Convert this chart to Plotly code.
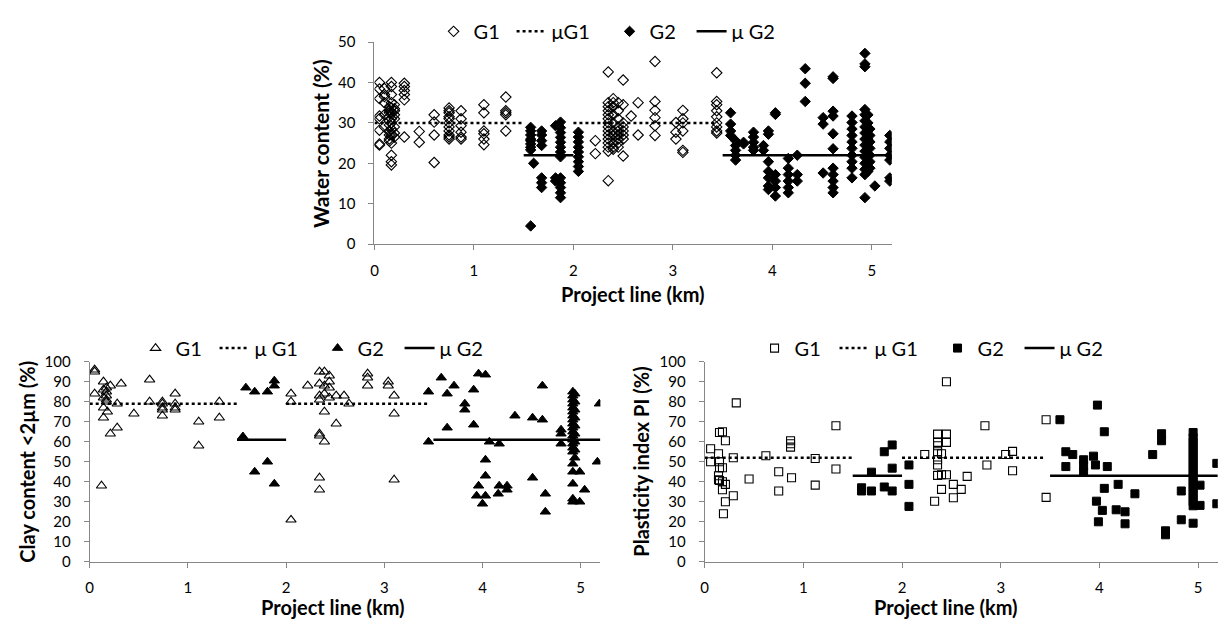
import plotly.graph_objects as go

# ---------------- data ----------------
# Water content (%) – top chart
wc_g1_km = [0.05, 0.05, 0.05, 0.05, 0.05, 0.05, 0.05, 0.05,
            0.10, 0.10, 0.10, 0.10, 0.10, 0.10,
            0.15, 0.15, 0.15, 0.15, 0.15, 0.15, 0.15, 0.15, 0.15, 0.15,
            0.17, 0.17, 0.17, 0.17, 0.17, 0.17, 0.17, 0.17, 0.17, 0.17, 0.17, 0.17, 0.17, 0.17,
            0.20, 0.20, 0.20, 0.20, 0.20, 0.20, 0.20, 0.20,
            0.30, 0.30, 0.30, 0.30, 0.30, 0.30,
            0.45, 0.45,
            0.60, 0.60, 0.60, 0.60,
            0.75, 0.75, 0.75, 0.75, 0.75, 0.75, 0.75, 0.75, 0.75, 0.75, 0.75,
            0.87, 0.87, 0.87, 0.87, 0.87, 0.87,
            1.10, 1.10, 1.10, 1.10, 1.10, 1.10,
            1.32, 1.32, 1.32, 1.32, 1.32,
            2.22, 2.22,
            2.35, 2.35, 2.35, 2.35, 2.35, 2.35, 2.35, 2.35, 2.35, 2.35, 2.35, 2.35, 2.35, 2.35, 2.35,
            2.40, 2.40, 2.40, 2.40, 2.40, 2.40, 2.40, 2.40, 2.40, 2.40,
            2.45, 2.45, 2.45, 2.45, 2.45, 2.45, 2.45, 2.45, 2.45,
            2.50, 2.50, 2.50, 2.50, 2.50, 2.50, 2.50, 2.50,
            2.58,
            2.65, 2.65,
            2.82, 2.82, 2.82, 2.82, 2.82, 2.82,
            3.03, 3.03, 3.03,
            3.10, 3.10, 3.10, 3.10, 3.10, 3.10,
            3.44, 3.44, 3.44, 3.44, 3.44, 3.44, 3.44, 3.44, 3.44]
wc_g1 = [40, 38.4, 36, 31.7, 31, 28.2, 24.8, 24.5,
         38.5, 37, 36.5, 35, 32, 29,
         34, 33, 32.5, 31.5, 30.5, 29.5, 28, 27, 26, 25.5,
         40, 39, 37, 35, 33.7, 32.5, 31, 30, 28.5, 27, 25, 22, 20.4, 19.6,
         34.5, 33.5, 33, 32, 31, 29, 27.5, 26.5,
         39.8, 39, 38, 37, 35.7, 26.5,
         27.9, 25.2,
         32, 30.2, 27, 20.2,
         33.7, 33, 32.5, 31.5, 31, 30, 29, 28, 27, 26.5, 26,
         33, 31, 29.3, 27.7, 26.5, 26,
         34.5, 32.5, 28, 27.3, 26, 24.6,
         36.4, 33, 32.5, 32, 28,
         25.6, 22.4,
         42.6, 35, 34, 33, 32, 31, 30, 29, 28, 27, 26, 25, 24, 23, 15.7,
         36, 35, 34, 32, 30, 28, 27, 25, 24, 23.5,
         35, 33, 31, 29, 28, 27, 26, 25, 24,
         40.6, 34.5, 30, 29, 28, 27, 26, 21.8,
         31.7,
         35, 27,
         45.2, 35.3, 33.1, 31.3, 29.3, 26.9,
         30.1, 27.7, 26,
         33.1, 31, 30, 28, 23.2, 22.7,
         42.4, 35.3, 34.5, 33, 31.5, 30, 29, 28, 27.5]

wc_g2_km = [1.57, 1.57, 1.57, 1.57, 1.57, 1.57, 1.57, 1.57, 1.57,
            1.60,
            1.68, 1.68, 1.68, 1.68, 1.68, 1.68, 1.68,
            1.82, 1.82, 1.82,
            1.87, 1.87, 1.87, 1.87, 1.87, 1.87, 1.87, 1.87, 1.87, 1.87, 1.87, 1.87, 1.87,
            2.05, 2.05, 2.05, 2.05, 2.05, 2.05, 2.05, 2.05, 2.05,
            3.58, 3.58, 3.58, 3.58,
            3.63, 3.63, 3.63, 3.63, 3.63,
            3.71, 3.71,
            3.81, 3.81, 3.81, 3.81, 3.81,
            3.91, 3.91,
            3.96, 3.96, 3.96, 3.96, 3.96, 3.96, 3.96,
            4.03, 4.03, 4.03, 4.03, 4.03, 4.03,
            4.16, 4.16, 4.16, 4.16, 4.16, 4.16,
            4.25, 4.25, 4.25,
            4.33, 4.33, 4.33,
            4.51, 4.51, 4.51,
            4.61, 4.61, 4.61, 4.61, 4.61, 4.61, 4.61, 4.61, 4.61, 4.61, 4.61,
            4.80, 4.80, 4.80, 4.80, 4.80, 4.80, 4.80, 4.80, 4.80, 4.80,
            4.93, 4.93, 4.93, 4.93, 4.93, 4.93, 4.93, 4.93, 4.93, 4.93, 4.93, 4.93, 4.93, 4.93, 4.93, 4.93,
            4.96, 4.96, 4.96, 4.96, 4.96, 4.96, 4.96, 4.96,
            4.98, 4.98, 4.98, 4.98, 4.98, 4.98, 4.98,
            5.03,
            5.18, 5.18, 5.18, 5.18, 5.18, 5.18, 5.18]
wc_g2 = [28.9, 28, 27, 26, 25.6, 24.8, 24, 23.3, 4.5,
         20,
         28, 27, 25.6, 24.4, 16.4, 15.2, 14,
         29.3, 16.4, 15.6,
         30.2, 28.8, 27.6, 26.4, 25.2, 24, 22.8, 21.6, 16.4, 15.2, 14, 12.7, 11.5,
         27.7, 26.5, 25.3, 24, 22.8, 21.6, 20.4, 19.2, 18,
         32.5, 29.7, 28, 26.9,
         25.6, 24.4, 23.2, 22, 20.8,
         25.2, 24.8,
         27.7, 26.5, 25.2, 24, 23.2,
         24.4, 23.2,
         28, 27.2, 20.4, 18, 16.4, 14.4, 13.5,
         32.5, 32.1, 17.2, 15.6, 14, 11.9,
         21.2, 18.8, 17.2, 15.6, 14, 12.7,
         22, 17.2, 15.6,
         43.4, 39.8, 35.3,
         31.3, 29.7, 17.6,
         41.4, 41, 32.9, 31.7, 27.3, 23.6, 18.8, 17.2, 15.6, 14, 12.7,
         31.7, 30.1, 28.5, 26.9, 25.3, 23.7, 22, 20.4, 18.8, 16.4,
         47.2, 44.6, 43.9, 33.3, 32, 30.5, 29, 27.5, 26, 24.5, 23, 21.5, 20, 18.5, 17.2, 11.5,
         32, 30, 28, 26, 24, 22, 20, 18,
         28.5, 26.9, 25.3, 23.7, 22, 20.4, 18.8,
         14.4,
         26.9, 25.3, 23.7, 22, 20.8, 16.4, 15.6]
wc_mean_g1 = 30
wc_mean_g2 = 22

# Clay content <2µm (%) – bottom-left chart
cc_g1_km = [0.05, 0.05, 0.05, 0.12,
            0.14, 0.14, 0.14, 0.14, 0.14,
            0.17, 0.17, 0.17, 0.17, 0.17,
            0.18, 0.21, 0.21, 0.28, 0.28, 0.32, 0.45, 0.61, 0.61,
            0.74, 0.74, 0.74, 0.74, 0.74,
            0.87, 0.87, 0.87, 0.87,
            1.11, 1.11, 1.32, 1.32,
            2.05, 2.05, 2.05, 2.22,
            2.34, 2.34, 2.34, 2.34, 2.34, 2.34, 2.34, 2.34,
            2.39, 2.39, 2.39, 2.39, 2.39,
            2.44, 2.44, 2.44, 2.44,
            2.51, 2.51, 2.59, 2.64,
            2.83, 2.83, 2.83, 3.04, 3.04,
            3.10, 3.10, 3.10]
cc_g1 = [96, 95, 84, 38,
         90, 86, 82, 77, 72,
         87, 85, 83, 81, 80,
         75, 88, 64, 79, 67, 89, 74, 91, 80,
         80, 79, 77, 76, 73,
         84, 79, 77, 76,
         70, 58, 80, 72,
         84, 80, 21, 88,
         95, 89, 83, 81, 64, 63, 42, 36,
         95, 88, 84, 75, 60,
         93, 90, 87, 82,
         83, 69, 83, 79,
         94, 92, 88, 90, 88,
         83, 74, 41]

cc_g2_km = [1.56, 1.59, 1.68, 1.68, 1.81, 1.81, 1.88, 1.88, 1.88,
            3.45, 3.45, 3.58, 3.64, 3.64, 3.71, 3.82, 3.82, 3.91, 3.91,
            3.96, 3.96, 4.03, 4.03, 4.03, 4.03, 3.94, 4.00, 4.07, 4.16,
            4.17, 4.17, 4.25, 4.25, 4.33, 4.51, 4.51, 4.61, 4.61, 4.64, 4.64,
            4.80, 4.80, 4.80,
            4.92, 4.92, 4.92, 4.92, 4.92, 4.92, 4.92, 4.92, 4.92, 4.92, 4.92,
            4.92, 4.92, 4.92, 4.92, 4.92, 4.92, 4.92, 4.92, 4.92, 4.92,
            4.94, 4.94, 4.94, 4.94, 4.94, 4.94, 4.94, 4.94, 4.94,
            4.99, 4.99, 5.04, 5.17, 5.19]
cc_g2 = [62.6, 87, 85, 45, 85, 50, 90.5, 88, 39,
         85, 60, 92, 84, 67, 88, 79, 76, 86, 68.5,
         94, 38, 93.5, 51, 43, 33, 33, 29, 60, 34,
         59, 38, 38, 36, 73, 72, 42, 88, 71, 34, 25,
         66, 64, 59,
         85, 83, 81, 79, 77, 75, 73, 71, 69, 67, 65,
         63, 61, 59, 57, 55, 49, 45, 39, 31.5, 30,
         84, 80, 76, 72, 68, 64, 60, 56, 52,
         45, 30, 36, 50, 79]
cc_mean_g1 = 79
cc_mean_g2 = 61

# Plasticity index PI (%) – bottom-right chart
pi_g1_km = [0.06, 0.06, 0.14, 0.14, 0.14, 0.15, 0.15, 0.15, 0.15,
            0.18, 0.18, 0.18, 0.18, 0.21, 0.21, 0.21, 0.19, 0.29, 0.29, 0.32,
            0.45, 0.62, 0.75, 0.75, 0.87, 0.87, 0.87, 0.88, 1.12, 1.12, 1.33, 1.33,
            2.23, 2.33, 2.36, 2.36, 2.36, 2.36, 2.36, 2.36, 2.36,
            2.40, 2.40, 2.40, 2.45, 2.45, 2.45, 2.45, 2.52, 2.52, 2.60, 2.66,
            2.84, 2.86, 3.05, 3.12, 3.12, 3.46, 3.46]
pi_g1 = [56.5, 50, 54, 43, 41, 64.6, 50, 47, 40.6,
         65, 47, 40, 36, 60.5, 38.7, 30, 24, 52, 33, 79.4,
         41.4, 53, 45, 35.4, 60.5, 59, 57.3, 42, 51.6, 38.3, 68, 46.4,
         53.6, 30.3, 63.8, 59.7, 58, 55, 51, 48.4, 43.2,
         54, 43.5, 36.2, 90, 63.8, 59.7, 43.5, 38.7, 32, 36.2, 42.7,
         68, 48.4, 53.6, 55.2, 45.5, 71, 32.2]

pi_g2_km = [1.59, 1.59, 1.69, 1.69, 1.82, 1.82, 1.90, 1.90, 1.90,
            2.07, 2.07, 2.07,
            3.60, 3.66, 3.66, 3.73, 3.84, 3.84, 3.84, 3.94, 3.96, 3.98, 3.99,
            4.05, 4.05, 3.97, 4.03, 4.08, 4.19, 4.17, 4.26, 4.26, 4.36,
            4.54, 4.63, 4.63, 4.67, 4.67, 4.83, 4.83,
            4.95, 4.95, 4.95, 4.95, 4.95, 4.95, 4.95, 4.95, 4.95, 4.95,
            4.95, 4.95, 4.95, 4.95, 4.95, 4.95, 4.95, 4.95, 4.95, 4.95,
            5.02, 5.02, 5.19, 5.19]
pi_g2 = [37, 35.4, 44.8, 35.4, 55, 37.4, 58.4, 46.8, 35.4,
         48.4, 38.7, 27.7,
         71, 55, 47.6, 53.6, 51, 48, 45, 52.8, 48.4, 78.3, 20,
         65, 36.7, 30.3, 25.7, 47.6, 38.7, 26, 25, 19, 34,
         53.6, 64, 60.5, 15.5, 13.5, 35.4, 21,
         64.6, 62, 60, 58, 56, 54, 52, 50, 48, 46,
         44, 42, 40, 38, 36, 34, 32, 30, 28, 19.3,
         38.3, 28.2, 49.2, 29]
pi_mean_g1 = 52
pi_mean_g2 = 43

# project-line sections for the group means (km)
g1_sections = [(0.0, 1.5), (2.0, 3.45)]
g2_sections = [(1.5, 2.0), (3.5, 5.2)]

x_ticks = [0, 1, 2, 3, 4, 5]

# ---------------- figure ----------------
FONT = "Lato"
AX_GREY = "#868686"

fig = go.Figure()


def mean_line(sections, value):
    xs, ys = [], []
    for a, b in sections:
        xs += [a, b, None]
        ys += [value, value, None]
    return xs, ys


panels = [
    dict(xa="x", ya="y", lg="legend", sym="diamond", size=8,
         g1=(wc_g1_km, wc_g1), g2=(wc_g2_km, wc_g2), m1=wc_mean_g1, m2=wc_mean_g2,
         names=["G1", "\u03bcG1", "G2", "\u03bc G2"], lw=[33, 53, 37, 40]),
    dict(xa="x2", ya="y2", lg="legend2", sym="triangle-up", size=9,
         g1=(cc_g1_km, cc_g1), g2=(cc_g2_km, cc_g2), m1=cc_mean_g1, m2=cc_mean_g2,
         names=["G1", "\u03bc G1", "G2", "\u03bc G2"], lw=[34, 58, 37, 45]),
    dict(xa="x3", ya="y3", lg="legend3", sym="square", size=8,
         g1=(pi_g1_km, pi_g1), g2=(pi_g2_km, pi_g2), m1=pi_mean_g1, m2=pi_mean_g2,
         names=["G1", "\u03bc G1", "G2", "\u03bc G2"], lw=[35, 58, 37, 45]),
]

for p in panels:
    fig.add_trace(go.Scatter(
        x=p["g1"][0], y=p["g1"][1], mode="markers", name=p["names"][0],
        xaxis=p["xa"], yaxis=p["ya"], legend=p["lg"], legendwidth=p["lw"][0],
        marker=dict(symbol=p["sym"] + "-open", size=p["size"], color="black",
                    line=dict(color="black", width=1.1))))
    mx, my = mean_line(g1_sections, p["m1"])
    fig.add_trace(go.Scatter(
        x=mx, y=my, mode="lines", name=p["names"][1], connectgaps=False,
        xaxis=p["xa"], yaxis=p["ya"], legend=p["lg"], legendwidth=p["lw"][1],
        line=dict(color="black", width=2.5, dash="dot")))
    fig.add_trace(go.Scatter(
        x=p["g2"][0], y=p["g2"][1], mode="markers", name=p["names"][2],
        xaxis=p["xa"], yaxis=p["ya"], legend=p["lg"], legendwidth=p["lw"][2],
        marker=dict(symbol=p["sym"], size=p["size"], color="black",
                    line=dict(color="black", width=1))))
    mx, my = mean_line(g2_sections, p["m2"])
    fig.add_trace(go.Scatter(
        x=mx, y=my, mode="lines", name=p["names"][3], connectgaps=False,
        xaxis=p["xa"], yaxis=p["ya"], legend=p["lg"], legendwidth=p["lw"][3],
        line=dict(color="black", width=2.5)))

W, H = 1219, 632


def xaxis(domain, anchor, standoff):
    return dict(domain=domain, anchor=anchor, range=[0, 5.2], tickvals=x_ticks,
                showline=True, linecolor=AX_GREY, linewidth=1, ticks="outside",
                ticklen=5, tickcolor=AX_GREY, showgrid=False, zeroline=False,
                tickfont=dict(size=15, color="black", family=FONT),
                ticklabelstandoff=standoff)


def yaxis(domain, anchor, top):
    return dict(domain=domain, anchor=anchor, range=[0, top], dtick=10,
                showline=True, linecolor=AX_GREY, linewidth=1, ticks="outside",
                ticklen=5, tickcolor=AX_GREY, showgrid=False, zeroline=False,
                tickfont=dict(size=15, color="black", family=FONT),
                ticklabelstandoff=10)


def leg(x_px, y_px):
    return dict(orientation="h", x=x_px / W, xanchor="left", y=1 - y_px / H,
                yanchor="middle", font=dict(size=20, family=FONT, color="black"),
                bgcolor="rgba(0,0,0,0)", itemwidth=30, tracegroupgap=0)


fig.update_layout(
    width=W, height=H, margin=dict(l=0, r=0, t=0, b=0),
    paper_bgcolor="white", plot_bgcolor="white",
    font=dict(family=FONT, color="black"),
    xaxis=xaxis([371.7 / W, 890.7 / W], "y", 8),
    yaxis=yaxis([1 - 241 / H, 1 - 33 / H], "x", 50),
    xaxis2=xaxis([86 / W, 598.3 / W], "y2", 7),
    yaxis2=yaxis([1 - 568 / H, 1 - 362 / H], "x2", 100),
    xaxis3=xaxis([703 / W, 1217.8 / W], "y3", 7),
    yaxis3=yaxis([1 - 568 / H, 1 - 362 / H], "x3", 100),
    legend=leg(431, 22),
    legend2=leg(132, 348),
    legend3=leg(753, 348),
)

titles = [
    ("Project line (km)", 631, 292, 0, 20),
    ("Water content (%)", 317, 137, -90, 21),
    ("Project line (km)", 330, 614, 0, 20),
    ("Clay content <2\u00b5m (%)", 23, 465, -90, 20),
    ("Project line (km)", 945, 614, 0, 20),
    ("Plasticity index PI (%)", 639, 465, -90, 20),
]
for text, xp, yp, ang, fs in titles:
    fig.add_annotation(text="<b>" + text + "</b>", x=xp / W, y=1 - yp / H,
                       xref="paper", yref="paper", xanchor="center", yanchor="middle",
                       showarrow=False, textangle=ang,
                       font=dict(size=fs, family=FONT, color="black"))

fig.write_html("out.html", config={"displayModeBar": False},
               post_script="document.body.style.margin='0';")
